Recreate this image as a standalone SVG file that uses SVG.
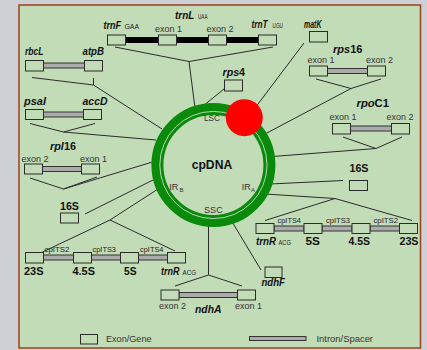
<svg xmlns="http://www.w3.org/2000/svg" width="427" height="350" viewBox="0 0 427 350">
  <style>
    .panel { fill: #c2dcb8; stroke: #a23e1c; stroke-width: 1.5; }
    .box { fill: #c2dcb8; stroke: #2b2b2b; stroke-width: 1; }
    .bar { fill: #ababab; stroke: #333; stroke-width: 1; }
    .blk { fill: #000; }
    .ln { stroke: #2b2b2b; stroke-width: 1; fill: none; }
    text { font-family: "Liberation Sans", Arial, sans-serif; fill: #111; }
    .g { font-size: 11px; font-weight: bold; font-style: italic; }
    .u { font-style: normal; }
    .n { font-size: 11px; font-weight: bold; }
    .sub { font-size: 6.5px; font-weight: normal; font-style: normal; fill: #222; }
    .ex { font-size: 9px; fill: #333; }
    .its { font-size: 7.5px; fill: #222; }
    .rl { font-size: 9px; fill: #333; }
    .rls { font-size: 6px; fill: #333; }
    .leg { font-size: 9px; fill: #333; }
  </style>

  <!-- background and panel -->
  <rect x="0" y="0" width="427" height="350" fill="#cdd1d5"/>
  <rect class="panel" x="19" y="5" width="401.5" height="343"/>

  <!-- connectors -->
  <g id="connectors">
    <polyline class="ln" points="115,47 189,61.5 273,47"/>
    <line class="ln" x1="189" y1="61.5" x2="195" y2="108"/>
    <line class="ln" x1="224" y1="89" x2="203" y2="106"/>
    <line class="ln" x1="304" y1="43" x2="255" y2="108"/>
    <polyline class="ln" points="316,79 351,88.5 381,79"/>
    <line class="ln" x1="351" y1="88.5" x2="265" y2="134"/>
    <polyline class="ln" points="343,137 376,148.5 402,137"/>
    <line class="ln" x1="376" y1="148.5" x2="266" y2="157"/>
    <line class="ln" x1="343" y1="180.5" x2="270" y2="184"/>
    <line class="ln" x1="265" y1="194" x2="335" y2="198.5"/>
    <polyline class="ln" points="265,220.5 335,198.5 412,220.5"/>
    <line class="ln" x1="231" y1="220" x2="261" y2="270"/>
    <line class="ln" x1="208.5" y1="224" x2="208.5" y2="275"/>
    <polyline class="ln" points="175,286 208.5,275 242,286"/>
    <line class="ln" x1="158" y1="189" x2="110" y2="220"/>
    <polyline class="ln" points="42.5,252 110,220 175,251"/>
    <line class="ln" x1="85" y1="214" x2="157" y2="178"/>
    <polyline class="ln" points="30,178 63.5,189 97,177"/>
    <line class="ln" x1="63.5" y1="189" x2="154" y2="161.5"/>
    <polyline class="ln" points="30,123.5 63.5,132 95,123.5"/>
    <line class="ln" x1="63.5" y1="132" x2="156" y2="140"/>
    <polyline class="ln" points="32,77.5 93.5,85 93.5,78"/>
    <line class="ln" x1="93.5" y1="85" x2="162" y2="129"/>
  </g>

  <!-- genome ring -->
  <g id="cpDNA">
    <circle cx="213.4" cy="165" r="56" fill="none" stroke="#0a8a0a" stroke-width="12"/>
    <circle cx="213.4" cy="165" r="53.6" fill="none" stroke="#d8ecd4" stroke-width="0.8"/>
    <circle cx="244.3" cy="117.7" r="18.5" fill="#ff0000"/>
    <text x="191.7" y="168.5" font-size="13" font-weight="bold" textLength="40.5" lengthAdjust="spacingAndGlyphs">cpDNA</text>
    <text class="rl" x="204" y="121" textLength="16" lengthAdjust="spacingAndGlyphs">LSC</text>
    <text class="rl" x="204" y="213.3" textLength="18.7" lengthAdjust="spacingAndGlyphs">SSC</text>
    <text class="rl" x="169.3" y="190">IR</text><text class="rls" x="179.6" y="191.5">B</text>
    <text class="rl" x="241.7" y="190">IR</text><text class="rls" x="251" y="191.5">A</text>
  </g>

  <!-- trnF / trnL / trnT -->
  <g id="trnF-trnL-trnT">
    <rect class="blk" x="125.5" y="37" width="133" height="6"/>
    <rect class="box" x="107.5" y="35" width="18" height="10"/>
    <rect class="box" x="158.5" y="35" width="18" height="10"/>
    <rect class="box" x="208.5" y="35" width="18" height="10"/>
    <rect class="box" x="258.5" y="35" width="18" height="10"/>
    <text class="g" x="103.5" y="28.5" textLength="17.5" lengthAdjust="spacingAndGlyphs">trnF</text>
    <text class="sub" x="124.5" y="28.5" textLength="14.5" lengthAdjust="spacingAndGlyphs">GAA</text>
    <text class="g" x="175" y="19" textLength="19.5" lengthAdjust="spacingAndGlyphs">trnL</text>
    <text class="sub" x="198" y="19" textLength="9.5" lengthAdjust="spacingAndGlyphs">UAA</text>
    <text class="g" x="251.5" y="28" textLength="16" lengthAdjust="spacingAndGlyphs">trnT</text>
    <text class="sub" x="272.5" y="28" textLength="10.5" lengthAdjust="spacingAndGlyphs">UGU</text>
    <text class="ex" x="155" y="32">exon 1</text>
    <text class="ex" x="206.5" y="32">exon 2</text>
  </g>

  <g id="matK">
    <rect class="box" x="309.5" y="31.5" width="18" height="10.5"/>
    <text class="g" x="304" y="28" textLength="17.5" lengthAdjust="spacingAndGlyphs">matK</text>
  </g>

  <g id="rps4">
    <rect class="box" x="224.5" y="80" width="18" height="11"/>
    <text class="g" x="222.5" y="76" textLength="22.5" lengthAdjust="spacingAndGlyphs">rps<tspan class="u">4</tspan></text>
  </g>

  <g id="rps16">
    <rect class="bar" x="327.5" y="68.5" width="40" height="5"/>
    <rect class="box" x="309.5" y="66" width="18" height="10"/>
    <rect class="box" x="367.5" y="66" width="18" height="10"/>
    <text class="g" x="333" y="53" textLength="29.5" lengthAdjust="spacingAndGlyphs">rps<tspan class="u">16</tspan></text>
    <text class="ex" x="307.5" y="62.5">exon 1</text>
    <text class="ex" x="366" y="62.5">exon 2</text>
  </g>

  <g id="rpoC1">
    <rect class="bar" x="350.5" y="126" width="41" height="5"/>
    <rect class="box" x="332.5" y="123.5" width="18" height="10.5"/>
    <rect class="box" x="391.5" y="123.5" width="18" height="10.5"/>
    <text class="g" x="356.5" y="106.5" textLength="32.5" lengthAdjust="spacingAndGlyphs">rpo<tspan class="u">C1</tspan></text>
    <text class="ex" x="329.5" y="120">exon 1</text>
    <text class="ex" x="386.5" y="120">exon 2</text>
  </g>

  <g id="rbcL-atpB">
    <rect class="bar" x="43.5" y="63" width="41" height="5"/>
    <rect class="box" x="25.5" y="60.5" width="18" height="10.5"/>
    <rect class="box" x="84.5" y="60.5" width="18" height="10.5"/>
    <text class="g" x="25" y="55" textLength="18.5" lengthAdjust="spacingAndGlyphs">rbcL</text>
    <text class="g" x="82.5" y="55" textLength="21.5" lengthAdjust="spacingAndGlyphs">atpB</text>
  </g>

  <g id="psaI-accD">
    <rect class="bar" x="43.5" y="112" width="40" height="5"/>
    <rect class="box" x="25.5" y="109.5" width="18" height="10"/>
    <rect class="box" x="83.5" y="109.5" width="18" height="10"/>
    <text class="g" x="24" y="105" textLength="22" lengthAdjust="spacingAndGlyphs">psaI</text>
    <text class="g" x="82.5" y="105" textLength="25" lengthAdjust="spacingAndGlyphs">accD</text>
  </g>

  <g id="rpl16">
    <rect class="bar" x="42.5" y="166.5" width="39" height="5"/>
    <rect class="box" x="24.5" y="164" width="18" height="10"/>
    <rect class="box" x="81.5" y="164" width="18" height="10"/>
    <text class="g" x="50" y="150" textLength="26" lengthAdjust="spacingAndGlyphs">rpl<tspan class="u">16</tspan></text>
    <text class="ex" x="21.5" y="161.5">exon 2</text>
    <text class="ex" x="80" y="161.5">exon 1</text>
  </g>

  <g id="rrn16-A">
    <rect class="box" x="349.5" y="180.5" width="18" height="10"/>
    <text class="n" x="349.5" y="171.5" textLength="19" lengthAdjust="spacingAndGlyphs">16S</text>
  </g>

  <g id="rrn16-B">
    <rect class="box" x="60.5" y="213" width="18" height="10"/>
    <text class="n" x="60" y="209.5" textLength="19" lengthAdjust="spacingAndGlyphs">16S</text>
  </g>

  <g id="operon-A">
    <rect class="bar" x="274" y="226" width="30" height="5"/>
    <rect class="bar" x="322" y="226" width="30" height="5"/>
    <rect class="bar" x="370" y="226" width="29.5" height="5"/>
    <rect class="box" x="256" y="223.5" width="18" height="10"/>
    <rect class="box" x="304" y="223.5" width="18" height="10"/>
    <rect class="box" x="352" y="223.5" width="18" height="10"/>
    <rect class="box" x="399.5" y="223.5" width="18" height="10"/>
    <text class="its" x="277.5" y="222.5" textLength="23.5" lengthAdjust="spacingAndGlyphs">cpITS4</text>
    <text class="its" x="326" y="222.5" textLength="24" lengthAdjust="spacingAndGlyphs">cpITS3</text>
    <text class="its" x="373.5" y="222.5" textLength="24.5" lengthAdjust="spacingAndGlyphs">cpITS2</text>
    <text class="g" x="256" y="245" textLength="20" lengthAdjust="spacingAndGlyphs">trnR</text>
    <text class="sub" x="278.5" y="245" textLength="12.5" lengthAdjust="spacingAndGlyphs">ACG</text>
    <text class="n" x="305.5" y="245" textLength="14.5" lengthAdjust="spacingAndGlyphs">5S</text>
    <text class="n" x="348.5" y="245" textLength="21.5" lengthAdjust="spacingAndGlyphs">4.5S</text>
    <text class="n" x="399.5" y="245" textLength="19" lengthAdjust="spacingAndGlyphs">23S</text>
  </g>

  <g id="operon-B">
    <rect class="bar" x="43.5" y="255" width="30" height="5"/>
    <rect class="bar" x="91.5" y="255" width="29" height="5"/>
    <rect class="bar" x="138.5" y="255" width="29" height="5"/>
    <rect class="box" x="25.5" y="252.5" width="18" height="10.5"/>
    <rect class="box" x="73.5" y="252.5" width="18" height="10.5"/>
    <rect class="box" x="120.5" y="252.5" width="18" height="10.5"/>
    <rect class="box" x="167.5" y="252.5" width="18" height="10.5"/>
    <text class="its" x="44.5" y="251.5" textLength="25" lengthAdjust="spacingAndGlyphs">cpITS2</text>
    <text class="its" x="92.5" y="251.5" textLength="23.5" lengthAdjust="spacingAndGlyphs">cpITS3</text>
    <text class="its" x="140" y="251.5" textLength="23.5" lengthAdjust="spacingAndGlyphs">cpITS4</text>
    <text class="n" x="24" y="275" textLength="19.5" lengthAdjust="spacingAndGlyphs">23S</text>
    <text class="n" x="72.5" y="275" textLength="22.5" lengthAdjust="spacingAndGlyphs">4.5S</text>
    <text class="n" x="124" y="275" textLength="12.5" lengthAdjust="spacingAndGlyphs">5S</text>
    <text class="g" x="161" y="275" textLength="18.5" lengthAdjust="spacingAndGlyphs">trnR</text>
    <text class="sub" x="182.5" y="275" textLength="13.5" lengthAdjust="spacingAndGlyphs">ACG</text>
  </g>

  <g id="ndhF">
    <rect class="box" x="265" y="267" width="17" height="10.5"/>
    <text class="g" x="261.5" y="286" textLength="23.5" lengthAdjust="spacingAndGlyphs">ndhF</text>
  </g>

  <g id="ndhA">
    <rect class="bar" x="179" y="292.5" width="58.5" height="5"/>
    <rect class="box" x="161" y="290" width="18" height="10"/>
    <rect class="box" x="237.5" y="290" width="18" height="10"/>
    <text class="g" x="195" y="313" textLength="26.5" lengthAdjust="spacingAndGlyphs">ndhA</text>
    <text class="ex" x="159" y="309">exon 2</text>
    <text class="ex" x="235" y="309">exon 1</text>
  </g>

  <!-- legend -->
  <g id="legend">
    <rect class="box" x="80.5" y="334.5" width="17" height="9.5"/>
    <text class="leg" x="106" y="341.5" textLength="45.5" lengthAdjust="spacingAndGlyphs">Exon/Gene</text>
    <rect class="bar" x="249.5" y="336.5" width="56.5" height="4"/>
    <text class="leg" x="316.5" y="341.5" textLength="56.5" lengthAdjust="spacingAndGlyphs">Intron/Spacer</text>
  </g>
</svg>
